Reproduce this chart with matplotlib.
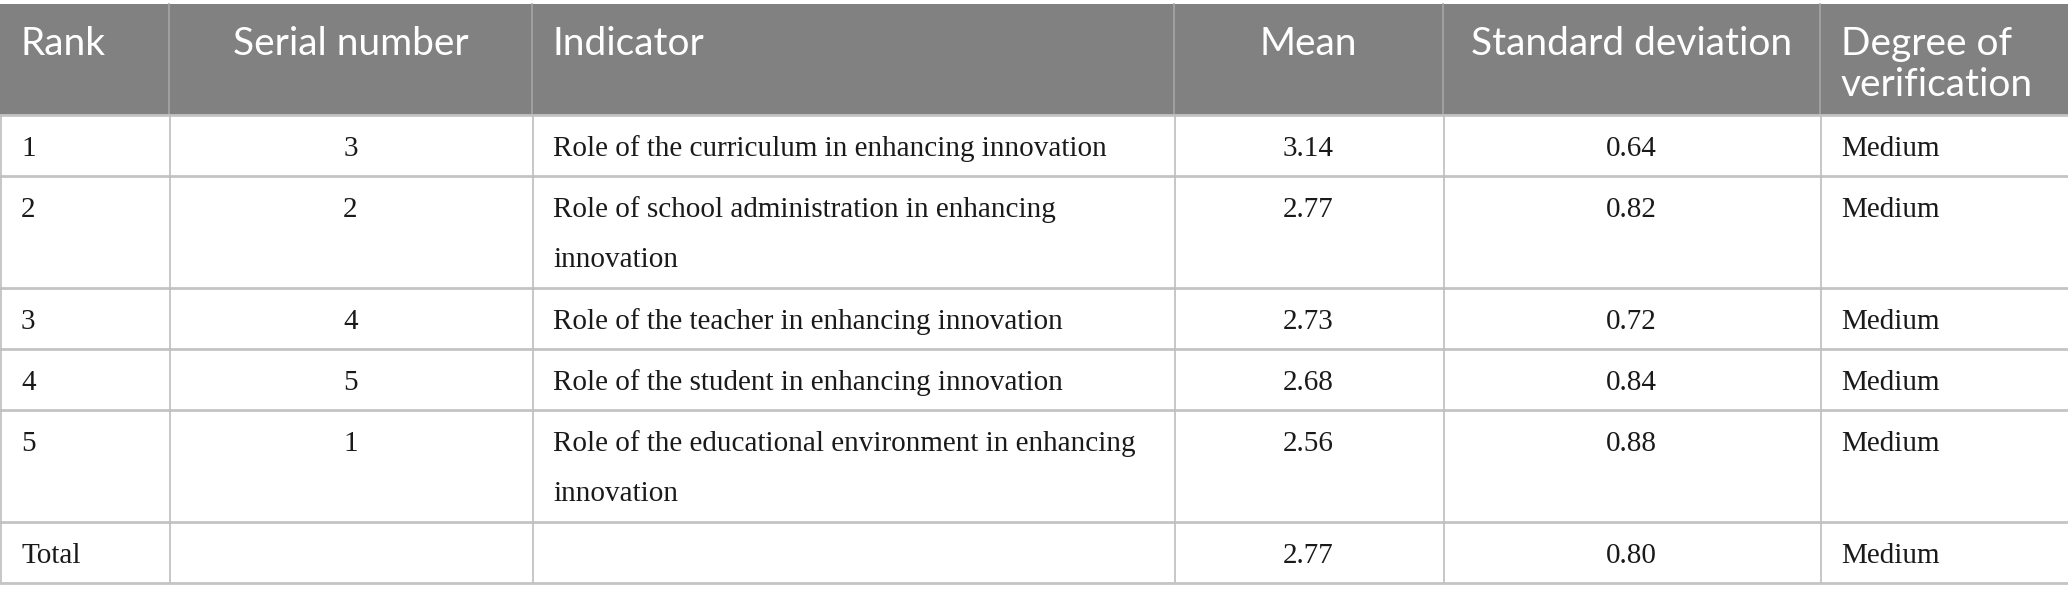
import textwrap
import matplotlib.pyplot as plt
from matplotlib.patches import Rectangle

# table content
headers = ["Rank", "Serial number", "Indicator", "Mean", "Standard deviation", "Degree of\nverification"]
rank = ["1", "2", "3", "4", "5", "Total"]
serial = ["3", "2", "4", "5", "1", ""]
indicator = [
    "Role of the curriculum in enhancing innovation",
    "Role of school administration in enhancing innovation",
    "Role of the teacher in enhancing innovation",
    "Role of the student in enhancing innovation",
    "Role of the educational environment in enhancing innovation",
    "",
]
mean = ["3.14", "2.77", "2.73", "2.68", "2.56", "2.77"]
std_dev = ["0.64", "0.82", "0.72", "0.84", "0.88", "0.80"]
degree = ["Medium"] * 6

# layout in pixels
W, H = 2068, 601
col_x = [0, 169, 532, 1174, 1443, 1820, 2068]
align = ["left", "center", "left", "center", "center", "left"]
head_align = ["left", "center", "left", "center", "center", "left"]
pad = 21
top = 4
head_h = 111

fig = plt.figure(figsize=(W / 100, H / 100), dpi=100)
ax = fig.add_axes([0, 0, 1, 1])
ax.set_xlim(0, W)
ax.set_ylim(H, 0)
ax.axis("off")


def text_x(c, how):
    if how == "left":
        return col_x[c] + pad
    return (col_x[c] + col_x[c + 1]) / 2


# header
ax.add_patch(Rectangle((0, top), W, head_h, facecolor="#808180", edgecolor="none"))
for c, h in enumerate(headers):
    for k, line in enumerate(h.split("\n")):
        ax.text(text_x(c, head_align[c]), top + 40 + 41 * k, line, color="white",
                fontsize=28, family="Lato", ha=head_align[c], va="center")
    if c > 0:
        ax.plot([col_x[c], col_x[c]], [top, top + head_h], color="#a6a6a6", lw=1.2)

# body
columns = [rank, serial, indicator, mean, std_dev, degree]
y = top + head_h
ax.plot([0, W], [y, y], color="#c4c4c4", lw=2)
for r in range(len(rank)):
    cells = [textwrap.wrap(col[r], 49) if col[r] else [] for col in columns]
    n = max(1, max(len(cl) for cl in cells))
    row_h = 61 + 51 * (n - 1)
    for c, lines in enumerate(cells):
        for k, line in enumerate(lines):
            ax.text(text_x(c, align[c]), y + 34 + 50 * k, line, color="#1a1a1a",
                    fontsize=21, family="Liberation Serif", ha=align[c], va="center")
    for c in range(len(col_x) - 1):
        ax.plot([col_x[c] + 0.5, col_x[c] + 0.5], [y, y + row_h], color="#bdbdbd", lw=1.2)
    y += row_h
    ax.plot([0, W], [y, y], color="#c4c4c4", lw=2)

fig.savefig("out.png", dpi=100, facecolor="white")
